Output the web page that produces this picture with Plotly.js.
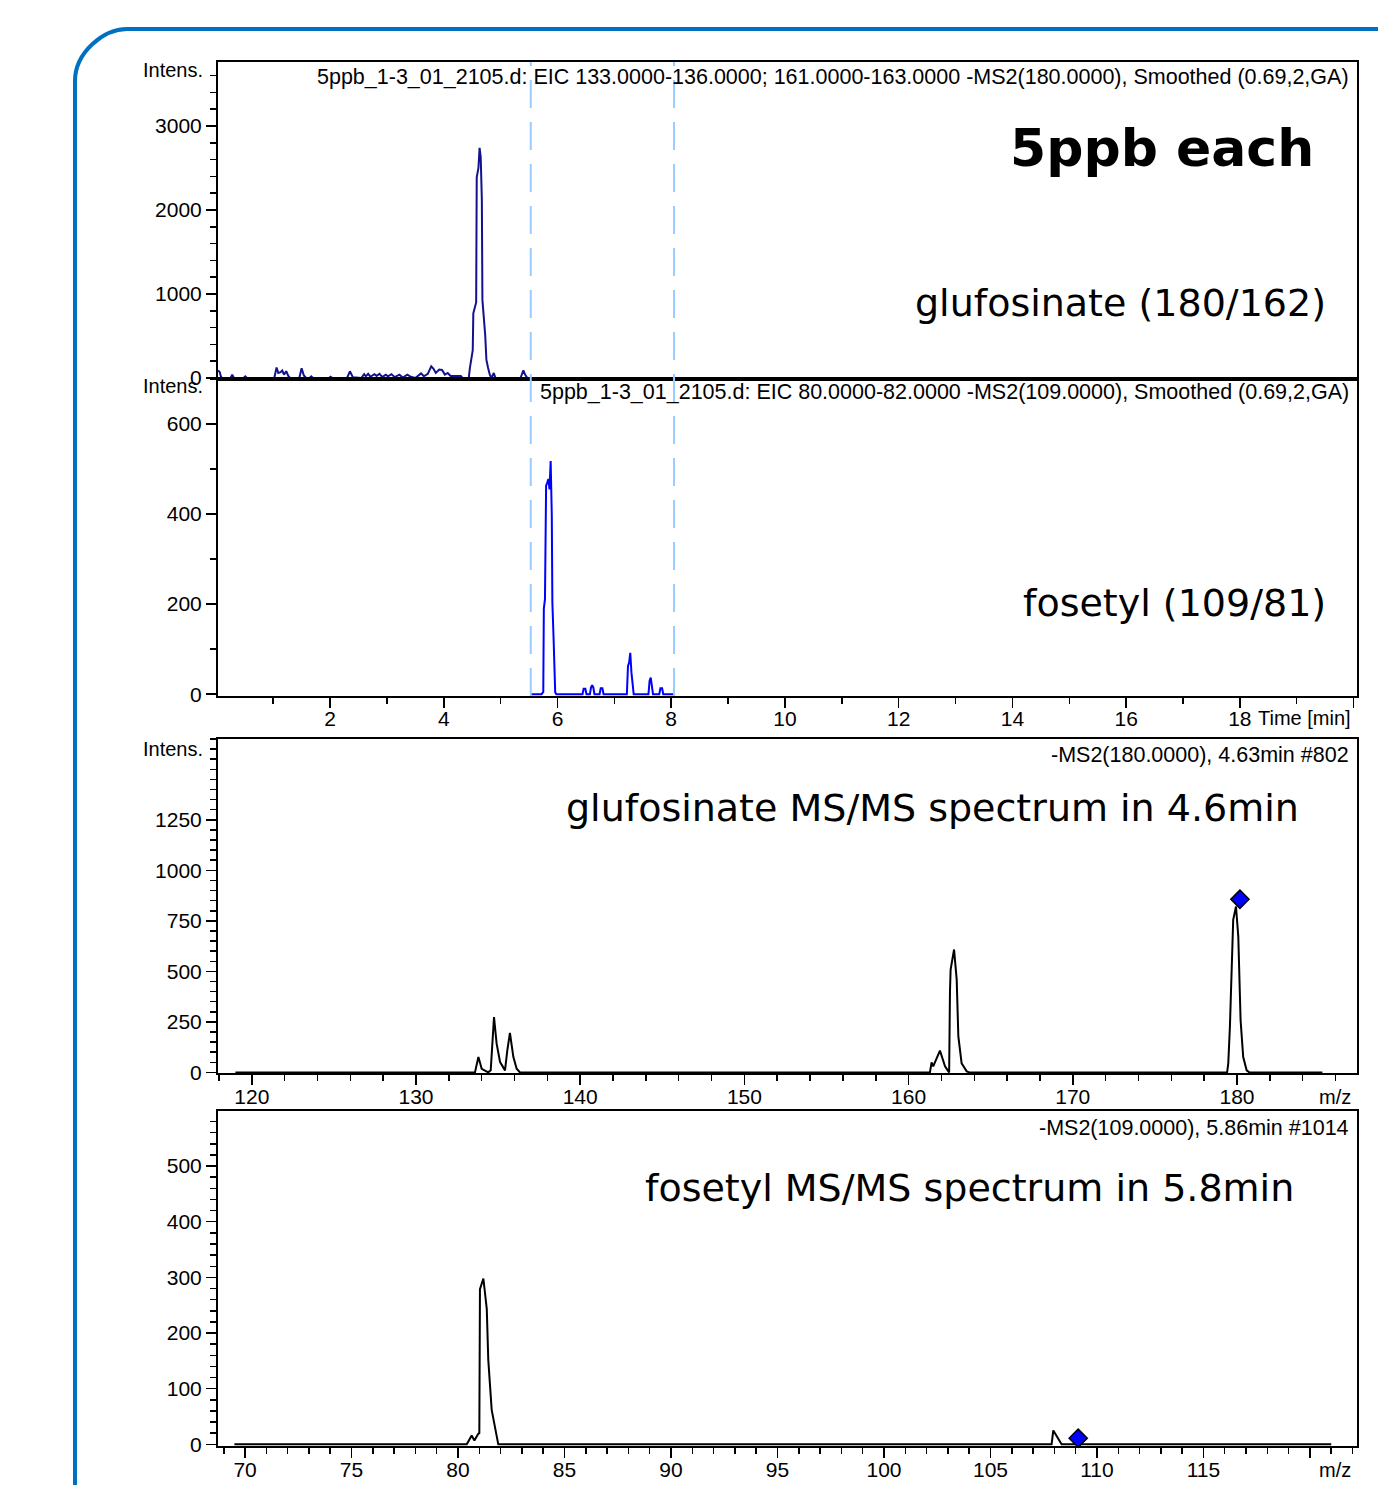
<!DOCTYPE html>
<html>
<head>
<meta charset="utf-8">
<script src="https://cdn.plot.ly/plotly-3.0.1.min.js"></script>
<style>
  html, body { margin: 0; padding: 0; background: #ffffff; }
  #chart { width: 1378px; height: 1485px; }
</style>
</head>
<body>
<div id="chart"></div>
<script>
// ---------- data ----------
// EIC glufosinate (retention time in min, intensity)
const glufEicTime = [0.03,0.06,0.08,0.10,0.25,0.28,0.31,0.48,0.51,0.54,1.02,1.06,1.09,1.13,1.16,1.19,1.23,1.27,1.30,1.46,1.50,1.54,1.58,1.64,1.67,1.70,1.98,2.01,2.04,2.30,2.35,2.40,2.55,2.60,2.63,2.67,2.71,2.78,2.82,2.87,2.92,2.98,3.02,3.08,3.14,3.22,3.28,3.36,3.42,3.50,3.60,3.65,3.72,3.78,3.82,3.86,3.92,3.97,4.02,4.07,4.12,4.30,4.33,4.44,4.46,4.51,4.52,4.57,4.58,4.61,4.63,4.65,4.67,4.68,4.73,4.75,4.78,4.81,4.84,4.88,4.91,5.35,5.40,5.43,5.47,5.53];
const glufEicIntensity = [90,70,20,0,0,40,0,0,20,0,0,125,60,70,90,40,80,20,0,0,115,30,0,0,20,0,0,15,0,0,80,10,0,45,20,50,15,45,25,50,10,40,20,45,10,40,5,40,15,0,55,20,50,140,110,60,100,95,40,60,25,25,0,0,120,330,770,900,2390,2500,2740,2630,2120,930,500,215,120,40,0,60,0,0,90,40,0,0];

// EIC fosetyl
const fosEicTime = [5.53,5.72,5.75,5.76,5.78,5.80,5.82,5.84,5.86,5.87,5.88,5.90,5.91,5.93,5.96,5.98,6.44,6.46,6.49,6.51,6.57,6.59,6.61,6.63,6.65,6.74,6.76,6.79,6.81,7.22,7.24,7.26,7.28,7.30,7.32,7.34,7.60,7.62,7.64,7.66,7.68,7.79,7.81,7.84,7.86,8.05];
const fosEicIntensity = [0,0,5,190,211,463,470,478,455,515,518,396,204,130,4,0,0,12,12,0,0,15,20,15,0,0,13,13,0,0,63,70,92,49,15,0,0,30,37,20,0,0,13,13,0,0];

// time segment borders (dashed lines)
const segmentTimes = [5.53, 8.05];

// MS/MS spectrum glufosinate (m/z, intensity)
const glufMsMz = [119.0,133.59,133.80,134.00,134.40,134.55,134.75,134.91,135.12,135.42,135.56,135.72,135.93,136.13,136.33,161.30,161.40,161.50,161.91,162.22,162.42,162.47,162.52,162.56,162.77,162.93,163.03,163.23,163.54,163.70,179.40,179.47,179.57,179.77,179.94,180.08,180.22,180.38,180.59,180.75,185.2];
const glufMsIntensity = [0,0,76,18,0,10,274,142,51,10,109,195,76,18,0,0,50,30,108,30,5,0,400,509,608,459,178,45,5,0,0,45,227,755,821,672,258,76,10,0,0];
const glufPrecursor = {mz: [180.18], intensity: [857]};

// MS/MS spectrum fosetyl
const fosMsMz = [69.5,80.41,80.64,80.77,80.95,81.00,81.03,81.19,81.35,81.42,81.58,81.89,107.87,107.95,108.34,121.0];
const fosMsIntensity = [0,0,16,7,19,20,279,298,243,152,62,0,0,25,0,0];
const fosPrecursor = {mz: [109.12], intensity: [11]};

// tick values / labels
const timeTickVals = [2,4,6,8,10,12,14,16,18,20];
const timeTickText = ['2','4','6','8','10','12','14','16','18',''];
const glufEicYTicks = [0,1000,2000,3000];
const fosEicYTicks = [0,200,400,600];
const glufMsXTicks = [120,130,140,150,160,170,180];
const glufMsYTicks = [0,250,500,750,1000,1250];
const fosMsXTicks = [70,75,80,85,90,95,100,105,110,115,120];
const fosMsXText = ['70','75','80','85','90','95','100','105','110','115',''];
const fosMsYTicks = [0,100,200,300,400,500];

// texts
const eicHeader1 = '5ppb_1-3_01_2105.d: EIC 133.0000-136.0000; 161.0000-163.0000 -MS2(180.0000), Smoothed (0.69,2,GA)';
const eicHeader2 = '5ppb_1-3_01_2105.d: EIC 80.0000-82.0000 -MS2(109.0000), Smoothed (0.69,2,GA)';
const msHeader1 = '-MS2(180.0000), 4.63min #802';
const msHeader2 = '-MS2(109.0000), 5.86min #1014';

// ---------- figure ----------
const W = 1378, H = 1485;
const M = {l: 218, r: 21, t: 62, b: 39};
const PW = W - M.l - M.r, PH = H - M.t - M.b;
const px = v => (v - M.l) / PW;          // pixel x -> paper
const py = v => (H - M.b - v) / PH;      // pixel y -> paper

const axisFont = {family: 'Liberation Sans, Arial, sans-serif', size: 21, color: '#000'};
function axisBase(extra) {
  return Object.assign({
    showline: true, linecolor: '#000', linewidth: 2, mirror: true,
    showgrid: false, zeroline: false,
    ticks: 'outside', ticklen: 10, tickwidth: 1.5, tickcolor: '#000',
    tickfont: axisFont, fixedrange: true
  }, extra);
}
function minor(dt) {
  return {ticks: 'outside', ticklen: 6, tickwidth: 1.5, tickcolor: '#000', dtick: dt, tick0: 0, showgrid: false};
}

const traces = [
  {x: glufEicTime, y: glufEicIntensity, xaxis: 'x', yaxis: 'y', mode: 'lines',
   line: {color: '#12128c', width: 2}, hoverinfo: 'skip'},
  {x: fosEicTime, y: fosEicIntensity, xaxis: 'x2', yaxis: 'y2', mode: 'lines',
   line: {color: '#0000ff', width: 2}, hoverinfo: 'skip'},
  {x: glufMsMz, y: glufMsIntensity, xaxis: 'x3', yaxis: 'y3', mode: 'lines',
   line: {color: '#000', width: 2}, hoverinfo: 'skip'},
  {x: glufPrecursor.mz, y: glufPrecursor.intensity, xaxis: 'x3', yaxis: 'y3', mode: 'markers',
   marker: {symbol: 'diamond', size: 14, color: '#0000ff', line: {color: '#000', width: 1.5}}, hoverinfo: 'skip'},
  {x: fosMsMz, y: fosMsIntensity, xaxis: 'x4', yaxis: 'y4', mode: 'lines',
   line: {color: '#000', width: 2}, hoverinfo: 'skip'},
  {x: fosPrecursor.mz, y: fosPrecursor.intensity, xaxis: 'x4', yaxis: 'y4', mode: 'markers', cliponaxis: false,
   marker: {symbol: 'diamond', size: 14, color: '#0000ff', line: {color: '#000', width: 1.5}}, hoverinfo: 'skip'}
];

const d1 = [py(379), 1], d2 = [py(696), py(379)], d3 = [py(1073), py(739)], d4 = [0, py(1111)];
const timeRange = [0.03, 20.06];

const layout = {
  width: W, height: H, margin: M,
  paper_bgcolor: '#fff', plot_bgcolor: 'rgba(0,0,0,0)',
  showlegend: false,
  font: axisFont,
  xaxis: axisBase({domain: [0, 1], anchor: 'y', range: timeRange, ticks: '', showticklabels: false}),
  yaxis: axisBase({domain: d1, anchor: 'x', range: [-12, 3762], tickmode: 'array', tickvals: glufEicYTicks, minor: minor(200)}),
  xaxis2: axisBase({domain: [0, 1], anchor: 'y2', range: timeRange, tickmode: 'array', tickvals: timeTickVals, ticktext: timeTickText, minor: minor(1), ticklabelstandoff: -7}),
  yaxis2: axisBase({domain: d2, anchor: 'x2', range: [-4, 700], tickmode: 'array', tickvals: fosEicYTicks, minor: minor(100)}),
  xaxis3: axisBase({domain: [0, 1], anchor: 'y3', range: [117.94, 187.31], tickmode: 'array', tickvals: glufMsXTicks, minor: minor(2), ticklabelstandoff: -6}),
  yaxis3: axisBase({domain: d3, anchor: 'x3', range: [-3, 1650], tickmode: 'array', tickvals: glufMsYTicks, minor: minor(50)}),
  xaxis4: axisBase({domain: [0, 1], anchor: 'y4', range: [68.73, 122.21], tickmode: 'array', tickvals: fosMsXTicks, ticktext: fosMsXText, minor: minor(1), ticklabelstandoff: -6}),
  yaxis4: axisBase({domain: d4, anchor: 'x4', range: [-3, 599], tickmode: 'array', tickvals: fosMsYTicks, minor: minor(20)}),
  shapes: [],
  annotations: []
};

// dashed segment borders across both EIC panels
segmentTimes.forEach(t => {
  layout.shapes.push({type: 'line', xref: 'x2', yref: 'paper', x0: t, x1: t, y0: d2[0], y1: 1,
    line: {color: '#99ccff', width: 2, dash: '28px,14px'}, layer: 'above'});
});

// rounded blue frame
const fx = px(75), fy = py(81), cy1 = py(52.3), cx2 = px(103.7), ty = py(29), tx = px(127);
layout.shapes.push({type: 'path', xref: 'paper', yref: 'paper',
  path: `M ${fx},${py(1520)} L ${fx},${fy} C ${fx},${cy1} ${cx2},${ty} ${tx},${ty} L ${px(1400)},${ty}`,
  line: {color: '#0070c0', width: 4}, layer: 'above'});

const smallFont = {family: 'Liberation Sans, Arial, sans-serif', size: 20, color: '#000'};
const headFont = {family: 'Liberation Sans, Arial, sans-serif', size: 21.5, color: '#000'};
const bigFont = {family: 'DejaVu Sans, Verdana, sans-serif', size: 38, color: '#000'};
function ann(text, x, y, font, xanchor) {
  layout.annotations.push({text: text, xref: 'paper', yref: 'paper', x: x, y: y,
    xanchor: xanchor || 'right', yanchor: 'middle', showarrow: false, font: font});
}
ann(eicHeader1, px(1351), py(77), headFont);
ann(eicHeader2, px(1351), py(392), headFont);
ann(msHeader1, px(1351), py(755), headFont);
ann(msHeader2, px(1351), py(1128), headFont);
ann('Intens.', px(205), py(70), smallFont);
ann('Intens.', px(205), py(386), smallFont);
ann('Intens.', px(205), py(749), smallFont);
ann('Time [min]', px(1353), py(718), smallFont);
ann('m/z', px(1353), py(1097), smallFont);
ann('m/z', px(1353), py(1470), smallFont);
ann('<b>5ppb each</b>', px(1316), py(148), {family: 'DejaVu Sans, Verdana, sans-serif', size: 52, color: '#000'});
ann('glufosinate (180/162)', px(1328), py(303), bigFont);
ann('fosetyl (109/81)', px(1328), py(603), bigFont);
ann('glufosinate MS/MS spectrum in 4.6min', px(1301), py(808), bigFont);
ann('fosetyl MS/MS spectrum in 5.8min', px(1296), py(1188), bigFont);

Plotly.newPlot('chart', traces, layout, {displayModeBar: false, staticPlot: true});
</script>
</body>
</html>
